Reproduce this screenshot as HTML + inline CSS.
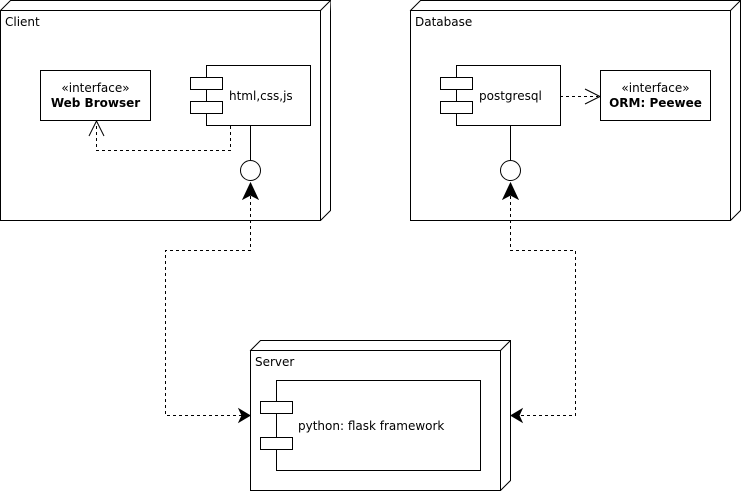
<!DOCTYPE html>
<html><head><style>body{margin:0;background:#fff}svg{display:block}</style></head><body>
<svg width="741" height="491" viewBox="0 0 741 491" xmlns="http://www.w3.org/2000/svg" font-family="'DejaVu Sans', 'Liberation Sans', sans-serif" font-size="12">
<g fill="#fff" stroke="#000" stroke-width="1">
<path d="M0.5 10.5 L10.5 0.5 L330.5 0.5 L330.5 210.5 L320.5 220.5 Z"/>
<path d="M320.5 220.5 L320.5 10.5 L330.5 0.5 M320.5 10.5 L0.5 10.5"/>
<rect x="0.5" y="10.5" width="320" height="210"/>
<path d="M410.5 10.5 L420.5 0.5 L740.5 0.5 L740.5 210.5 L730.5 220.5 Z"/>
<path d="M730.5 10.5 L740.5 0.5"/>
<rect x="410.5" y="10.5" width="320" height="210"/>
<path d="M250.5 350.5 L260.5 340.5 L510.5 340.5 L510.5 480.5 L500.5 490.5 Z"/>
<path d="M500.5 350.5 L510.5 340.5"/>
<rect x="250.5" y="350.5" width="250" height="140"/>

<rect x="40.5" y="70.5" width="110" height="50"/>
<rect x="206.5" y="65.5" width="104" height="60"/>
<rect x="190.5" y="77.5" width="32" height="12"/>
<rect x="190.5" y="101.5" width="32" height="12"/>

<rect x="456.5" y="65.5" width="104" height="60"/>
<rect x="440.5" y="77.5" width="32" height="12"/>
<rect x="440.5" y="101.5" width="32" height="12"/>
<rect x="600.5" y="70.5" width="110" height="50"/>

<rect x="276.5" y="380.5" width="204" height="90"/>
<rect x="260.5" y="401.5" width="32" height="12"/>
<rect x="260.5" y="437.5" width="32" height="12"/>

<path d="M250.5 125.5 V160" fill="none"/>
<circle cx="250.5" cy="170.5" r="10"/>
<path d="M510.5 125.5 V160" fill="none"/>
<circle cx="510.5" cy="170.5" r="10"/>
</g>
<g fill="none" stroke="#000" stroke-dasharray="3,3">
<path d="M230.5 126 V150.5 H96.5 V123"/>
<path d="M560 96.5 H598"/>
<path d="M250.5 196 V250.5 H165.5 V415.5 H244"/>
<path d="M510.5 196 V250.5 H575.5 V415.5 H516"/>
</g>
<g fill="none" stroke="#000">
<path d="M89 136 L96.5 121 L104 136"/>
<path d="M585 89 L600 96.5 L585 104"/>
</g>
<g fill="#000" stroke="#000">
<path d="M250.5 183 L258 199 L250.5 195 L243 199 Z"/>
<path d="M510.5 183 L518 199 L510.5 195 L503 199 Z"/>
<path d="M250 415.5 L239 409 L242 415.5 L239 422 Z"/>
<path d="M511 415.5 L522 409 L519 415.5 L522 422 Z"/>
</g>
<g fill="#000">
<text x="5" y="26">Client</text>
<text x="415" y="26">Database</text>
<text x="255" y="366">Server</text>
<text x="95.5" y="92" text-anchor="middle">«interface»</text>
<text x="95.5" y="107" text-anchor="middle" font-weight="bold">Web Browser</text>
<text x="655.5" y="92" text-anchor="middle">«interface»</text>
<text x="655.5" y="107" text-anchor="middle" font-weight="bold">ORM: Peewee</text>
<text x="229" y="100">html,css,js</text>
<text x="479" y="100">postgresql</text>
<text x="298" y="430">python: flask framework</text>
</g>
</svg>
</body></html>
